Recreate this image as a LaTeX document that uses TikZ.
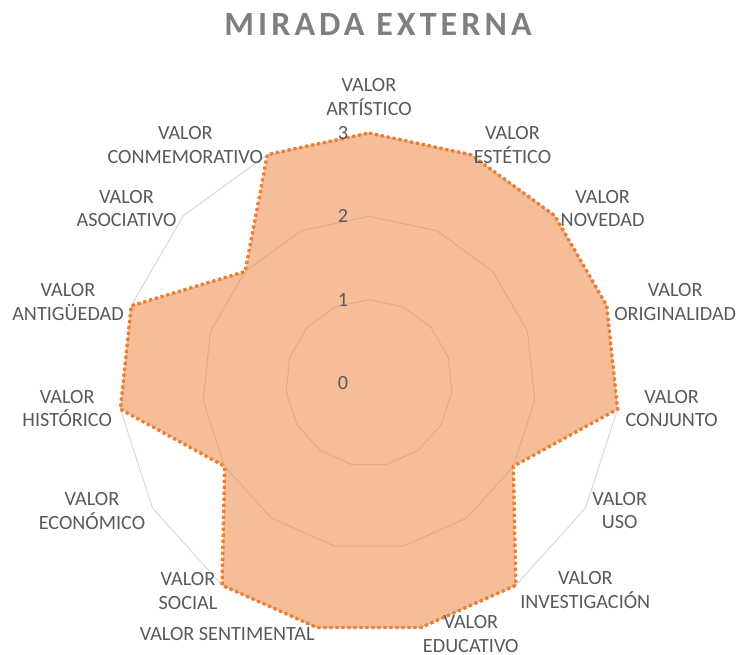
\documentclass[tikz,border=0pt]{standalone}
\usepackage{fontspec}
\setmainfont{Carlito}
\newfontfamily\titlefont[LetterSpace=12]{Carlito}
\usetikzlibrary{calc}
\definecolor{accent}{HTML}{ED7D31}
\definecolor{gridgray}{HTML}{D9D9D9}
\definecolor{labelgray}{HTML}{595959}
\definecolor{titlegray}{HTML}{7F7F7F}

\begin{document}
\begin{tikzpicture}[x=1pt,y=-1pt,
  ring/.style={draw=gridgray, line width=1pt, line join=round},
  serie/.style={fill=accent, fill opacity=0.5},
  seriedots/.style={draw=accent, line width=3.3pt, dash pattern=on 3.2pt off 2.8pt},
  lbl/.style={font=\fontsize{20.2}{23.8}\selectfont, text=labelgray, align=center, inner sep=0pt},
  tick/.style={font=\fontsize{20.2}{23.8}\selectfont, text=labelgray, inner sep=0pt}]
  \useasboundingbox (0,0) rectangle (737,654);
  \coordinate (o) at (369,383);
  \foreach \v in {1,2,3}
    \draw[ring] ($(o)+(-90:\v*83.33)$) \foreach \k in {1,...,14}{ -- ($(o)+(-90+24*\k:\v*83.33)$)} -- cycle;
  \foreach \val [count=\k from 0] in {3,3,3,3,3,2,3,3,3,3,2,3,3,2,3}
    \coordinate (p\k) at ($(o)+(-90+24*\k:\val*83.33)$);
  \fill[serie] (p0) \foreach \k in {1,...,14}{ -- (p\k)} -- cycle;
  \draw[seriedots] (p0) \foreach \k in {1,...,14}{ -- (p\k)} -- cycle;
  \foreach \v in {0,...,3}
    \node[tick] (t\v) at ($(o)+(-26,-83.33*\v)$) {\v};
  \node[lbl] (artistico) at (369,96.8) {VALOR\\ARTÍSTICO};
  \node[lbl] (estetico) at (512.5,145.3) {VALOR\\ESTÉTICO};
  \node[lbl] (novedad) at (602.6,208.5) {VALOR\\NOVEDAD};
  \node[lbl] (originalidad) at (675.2,302) {VALOR\\ORIGINALIDAD};
  \node[lbl] (conjunto) at (671.6,408.5) {VALOR\\CONJUNTO};
  \node[lbl] (uso) at (619.7,510.5) {VALOR\\USO};
  \node[lbl] (investigacion) at (585.3,590.3) {VALOR\\INVESTIGACIÓN};
  \node[lbl] (educativo) at (470.8,634.3) {VALOR\\EDUCATIVO};
  \node[lbl] (sentimental) at (227.2,633.8) {VALOR SENTIMENTAL};
  \node[lbl] (social) at (188,590.7) {VALOR\\SOCIAL};
  \node[lbl] (economico) at (92,510.7) {VALOR\\ECONÓMICO};
  \node[lbl] (historico) at (67.2,408.5) {VALOR\\HISTÓRICO};
  \node[lbl] (antiguedad) at (68,301.7) {VALOR\\ANTIGÜEDAD};
  \node[lbl] (asociativo) at (126.5,208.5) {VALOR\\ASOCIATIVO};
  \node[lbl] (conmemorativo) at (185.3,145.2) {VALOR\\CONMEMORATIVO};
  \node[font=\titlefont\bfseries\fontsize{34}{40}\selectfont, text=titlegray, inner sep=0pt] (titulo) at (378,24.2) {MIRADA EXTERNA};
\end{tikzpicture}
\end{document}
